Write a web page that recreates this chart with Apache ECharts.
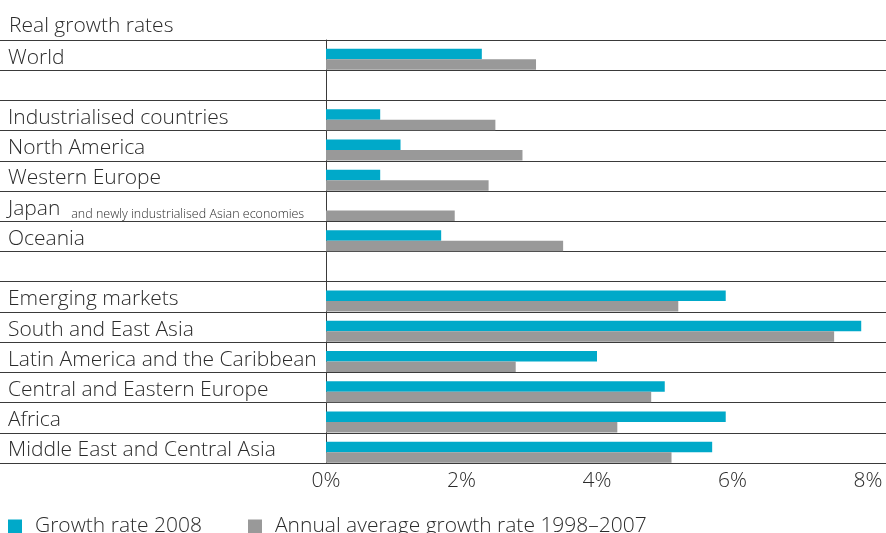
<!DOCTYPE html>
<html>
<head>
<meta charset="utf-8">
<script src="https://cdn.jsdelivr.net/npm/echarts@6/dist/echarts.min.js"></script>
<style>
html,body{margin:0;padding:0;background:#fff;}
#chart{width:886px;height:533px;}
</style>
</head>
<body>
<div id="chart"></div>
<script>
var titleText = 'Real growth rates';
var categories = ['World', ' ', 'Industrialised countries', 'North America', 'Western Europe',
  'Japan and newly industrialised Asian economies', 'Oceania', '  ', 'Emerging markets',
  'South and East Asia', 'Latin America and the Caribbean', 'Central and Eastern Europe',
  'Africa', 'Middle East and Central Asia'];
var growth2008 = [2.3, null, 0.8, 1.1, 0.8, null, 1.7, null, 5.9, 7.9, 4.0, 5.0, 5.9, 5.7];
var avg19982007 = [3.1, null, 2.5, 2.9, 2.4, 1.9, 3.5, null, 5.2, 7.5, 2.8, 4.8, 4.3, 5.1];
var seriesNames = ['Growth rate 2008', 'Annual average growth rate 1998\u20132007'];
var xTicks = {min: 0, max: 8, interval: 2};

var FONT = 'Open Sans';
var FW = 300;
var FS = 21;
var TEXT = '#2b2b2b';
var LINE = '#3a3a3a';

var chart = echarts.init(document.getElementById('chart'), null, {renderer: 'canvas'});
chart.setOption({
  animation: false,
  title: {
    text: titleText, left: 4, top: 11,
    textStyle: {fontFamily: FONT, fontWeight: FW, fontSize: FS, color: TEXT}
  },
  legend: {
    data: seriesNames, left: 3, top: 511, itemWidth: 14, itemHeight: 14, itemGap: 46,
    icon: 'rect',
    textStyle: {fontFamily: FONT, fontWeight: FW, fontSize: FS, color: TEXT, padding: [0, 0, 0, 8]}
  },
  grid: [
    {left: 0, right: 0, top: 40, bottom: 70},
    {left: 326, right: 18, top: 40, bottom: 70}
  ],
  xAxis: [
    {gridIndex: 0, type: 'value', min: 0, max: 1, axisLabel: {show: false}, axisTick: {show: false},
     splitLine: {show: false}, axisLine: {show: true, lineStyle: {color: LINE, width: 1}}},
    {gridIndex: 1, type: 'value', min: xTicks.min, max: xTicks.max, interval: xTicks.interval,
     axisLine: {show: false}, axisTick: {show: false}, splitLine: {show: false},
     axisLabel: {formatter: '{value}%', margin: 8, fontFamily: FONT, fontWeight: FW, fontSize: FS, color: TEXT}}
  ],
  yAxis: [
    {gridIndex: 0, type: 'category', inverse: true, data: categories,
     axisLine: {show: false}, axisTick: {show: false},
     splitLine: {show: true, lineStyle: {color: LINE, width: 1}},
     axisLabel: {inside: true, margin: 8, interval: 0, showMinLabel: true, showMaxLabel: true, hideOverlap: false,
       padding: [5, 0, 0, 0],
       fontFamily: FONT, fontWeight: FW, fontSize: FS, color: TEXT,
       formatter: function (v) {
         if (v.indexOf('Japan ') === 0) {
           return '{a|Japan}  {b|' + v.slice(6) + '}';
         }
         return '{a|' + v.trim() + '}';
       },
       rich: {
         a: {fontFamily: FONT, fontWeight: FW, fontSize: FS, color: TEXT, lineHeight: 24},
         b: {fontFamily: FONT, fontWeight: FW, fontSize: 12.5, color: TEXT, lineHeight: 18, verticalAlign: 'bottom'}
       }
     }},
    {gridIndex: 1, type: 'category', inverse: true, data: categories,
     axisLine: {show: true, lineStyle: {color: LINE, width: 1}}, axisTick: {show: false},
     axisLabel: {show: false}, splitLine: {show: false}}
  ],
  series: [
    {name: 'spacer', type: 'bar', xAxisIndex: 1, yAxisIndex: 1, barWidth: 8.5, barGap: 0,
     data: categories.map(function () { return '-'; }), itemStyle: {color: 'rgba(0,0,0,0)'}, silent: true},
    {name: seriesNames[0], type: 'bar', xAxisIndex: 1, yAxisIndex: 1, barWidth: 10.5, barGap: 0,
     data: growth2008, itemStyle: {color: '#00a9c9'}},
    {name: seriesNames[1], type: 'bar', xAxisIndex: 1, yAxisIndex: 1, barWidth: 10.5, barGap: 0,
     data: avg19982007, itemStyle: {color: '#999999'}}
  ]
});
</script>
</body>
</html>
